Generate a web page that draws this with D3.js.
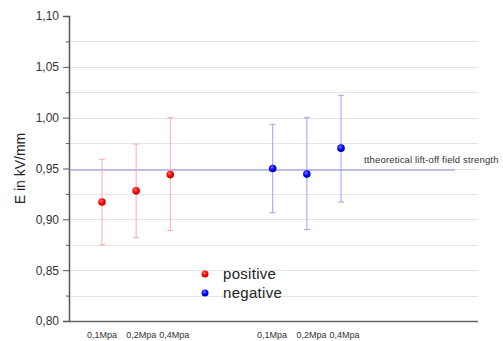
<!DOCTYPE html>
<html lang="en">
<head>
<meta charset="UTF-8">
<title>Lift-off field strength</title>
<script src="https://d3js.org/d3.v7.min.js"></script>
<style>
  body { margin: 0; background: #fff; }
  svg { display: block; font-family: "Liberation Sans", Arial, sans-serif; }
  .grid line { stroke: #e4e4e4; stroke-width: 1; }
  .axis path, .axis line { stroke: #555; }
  .axis text { fill: #333; font-size: 12px; }
</style>
</head>
<body>
<svg width="503" height="341"></svg>
<script>
// pressure labels per group
const pressures = ["0,1Mpa", "0,2Mpa", "0,4Mpa"];
// slot index on the x axis (gap of two slots between the groups)
const posSlots = [0, 1, 2];
const negSlots = [5, 6, 7];
// where the category labels sit (they are not quite under the points)
const labelSlots = [0, 1.15, 2.12, 4.98, 6.14, 7.1];
// positive polarity: mean, lower, upper (kV/mm)
const posMean = [0.917, 0.928, 0.944];
const posLow  = [0.875, 0.882, 0.889];
const posHigh = [0.959, 0.974, 1.000];
// negative polarity
const negMean = [0.950, 0.9445, 0.970];
const negLow  = [0.9065, 0.890, 0.917];
const negHigh = [0.9935, 1.000, 1.022];
// theoretical lift-off field strength
const theory = 0.9485;
const yTicks = [0.80, 0.85, 0.90, 0.95, 1.00, 1.05, 1.10];

const svg = d3.select("svg");
const plotL = 69, plotR = 478, plotT = 16, plotB = 321;

const y = d3.scaleLinear().domain([0.80, 1.10]).range([plotB, plotT]);
const x = d3.scaleLinear().domain([0, 7]).range([102, 341]);

const fmt = v => d3.format(".2f")(v).replace(".", ",");

// gridlines every 0.025, except the axis line and the top
const gridVals = d3.range(1, 12).map(i => 0.80 + i * 0.025);
svg.append("g").attr("class", "grid")
  .selectAll("line").data(gridVals).enter().append("line")
  .attr("x1", plotL).attr("x2", plotR)
  .attr("y1", d => Math.round(y(d)) + 0.5).attr("y2", d => Math.round(y(d)) + 0.5);

// minor ticks
svg.append("g").attr("class", "axis")
  .attr("transform", `translate(${plotL},0)`)
  .call(d3.axisLeft(y).tickValues(d3.range(0, 6).map(i => 0.825 + i * 0.05)).tickSize(3).tickFormat(""))
  .call(g => g.select(".domain").remove());

// major axis
svg.append("g").attr("class", "axis")
  .attr("transform", `translate(${plotL},0)`)
  .call(d3.axisLeft(y).tickValues(yTicks).tickSize(6).tickSizeOuter(6).tickPadding(4).tickFormat(fmt))
  .call(g => g.select(".domain").attr("stroke-width", 1.5));

// bottom axis line
svg.append("line")
  .attr("x1", plotL).attr("x2", plotR)
  .attr("y1", plotB + 0.5).attr("y2", plotB + 0.5)
  .attr("stroke", "#666").attr("stroke-width", 1.5);

// x labels
const xLabels = labelSlots.map((s, i) => ({ s, t: pressures[i % 3] }));
svg.append("g").selectAll("text").data(xLabels).enter().append("text")
  .attr("x", d => x(d.s)).attr("y", 338)
  .attr("text-anchor", "middle")
  .attr("font-size", 9).attr("fill", "#333")
  .text(d => d.t);

// y axis title
svg.append("text")
  .attr("transform", `translate(25,${(plotT + plotB) / 2}) rotate(-90)`)
  .attr("text-anchor", "middle")
  .attr("font-size", 14).attr("fill", "#222")
  .text("E in kV/mm");

// theory line
svg.append("line")
  .attr("x1", plotL).attr("x2", 455)
  .attr("y1", y(theory)).attr("y2", y(theory))
  .attr("stroke", "#8a8ae0").attr("stroke-width", 1);
svg.append("text")
  .attr("x", 364).attr("y", y(theory) - 7)
  .attr("font-size", 9.5).attr("letter-spacing", 0.15).attr("fill", "#333")
  .text("ttheoretical lift-off field strength");

// gradients for the dots
const defs = svg.append("defs");
[["redDot", "#ff7a7a", "#ff0000", "#c00000"], ["blueDot", "#7a7aff", "#0000ff", "#0000b0"]].forEach(([id, a, b, c]) => {
  const g = defs.append("radialGradient").attr("id", id).attr("cx", "40%").attr("cy", "35%").attr("r", "65%");
  g.append("stop").attr("offset", "0%").attr("stop-color", a);
  g.append("stop").attr("offset", "55%").attr("stop-color", b);
  g.append("stop").attr("offset", "100%").attr("stop-color", c);
});

function series(slots, mean, low, high, barColor, dotFill) {
  const data = slots.map((s, i) => ({ s, m: mean[i], lo: low[i], hi: high[i] }));
  const g = svg.append("g");
  const cap = 3;
  g.selectAll("line.bar").data(data).enter().append("line")
    .attr("x1", d => x(d.s)).attr("x2", d => x(d.s))
    .attr("y1", d => y(d.lo)).attr("y2", d => y(d.hi))
    .attr("stroke", barColor);
  g.selectAll("line.capHi").data(data).enter().append("line")
    .attr("x1", d => x(d.s) - cap).attr("x2", d => x(d.s) + cap)
    .attr("y1", d => y(d.hi)).attr("y2", d => y(d.hi))
    .attr("stroke", barColor);
  g.selectAll("line.capLo").data(data).enter().append("line")
    .attr("x1", d => x(d.s) - cap).attr("x2", d => x(d.s) + cap)
    .attr("y1", d => y(d.lo)).attr("y2", d => y(d.lo))
    .attr("stroke", barColor);
  g.selectAll("circle").data(data).enter().append("circle")
    .attr("cx", d => x(d.s)).attr("cy", d => y(d.m))
    .attr("r", 3.8).attr("fill", dotFill);
}
series(posSlots, posMean, posLow, posHigh, "#ffaaaa", "url(#redDot)");
series(negSlots, negMean, negLow, negHigh, "#a0a0f4", "url(#blueDot)");

// legend
const legend = [["positive", "url(#redDot)"], ["negative", "url(#blueDot)"]];
const lg = svg.append("g").selectAll("g").data(legend).enter().append("g")
  .attr("transform", (d, i) => `translate(205,${274 + i * 19})`);
lg.append("circle").attr("r", 3.5).attr("fill", d => d[1]);
lg.append("text").attr("x", 18).attr("y", 5)
  .attr("font-size", 15).attr("letter-spacing", 0.3).attr("fill", "#222").text(d => d[0]);
</script>
</body>
</html>
